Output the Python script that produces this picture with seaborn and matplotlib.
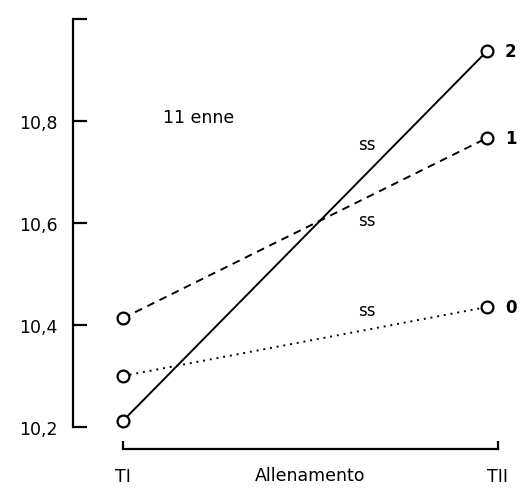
import pandas as pd
import seaborn as sns
import matplotlib.pyplot as plt

# valori
momenti = [0, 1]
tick_x = ['TI', 'TII']
gruppi = ['2', '1', '0']
valori_2 = [10.212, 10.936]
valori_1 = [10.413, 10.766]
valori_0 = [10.30, 10.435]
yticks = [10.2, 10.4, 10.6, 10.8]
ytick_labels = ['10,2', '10,4', '10,6', '10,8']

sns.set_theme(style="ticks")
plt.rcParams['font.family'] = ['DejaVu Sans']
plt.rcParams['text.color'] = 'black'

fig = plt.figure(figsize=(5.23, 4.89), dpi=100)
ax = fig.add_axes([0.1396, 0.0798, 0.8164, 0.8854])

stili = {'2': '-', '1': (0, (4, 3)), '0': (0, (1, 2.5))}
serie = {'2': valori_2, '1': valori_1, '0': valori_0}

for g in gruppi:
    df = pd.DataFrame({'momento': momenti, 'valore': serie[g]})
    sns.lineplot(data=df, x='momento', y='valore', ax=ax, color='black',
                 linestyle=stili[g], linewidth=1.4, marker='o', markersize=8.5,
                 markerfacecolor='white', markeredgecolor='black',
                 markeredgewidth=1.6, clip_on=False)
    ax.text(1.05, serie[g][1], g, fontsize=12, fontweight='bold',
            va='center', ha='left', clip_on=False)

ax.text(0.209, 10.808, '11 enne', fontsize=12.5, ha='center', va='center')
ax.text(0.67, 10.754, 'ss', fontsize=12, ha='center', va='center')
ax.text(0.67, 10.605, 'ss', fontsize=12, ha='center', va='center')
ax.text(0.67, 10.429, 'ss', fontsize=12, ha='center', va='center')

ax.set_xlim(-0.137, 1.036)
ax.set_ylim(10.157, 11.005)

ax.spines['top'].set_visible(False)
ax.spines['right'].set_visible(False)
ax.spines['left'].set_bounds(10.2, 11.0)
ax.spines['bottom'].set_bounds(0, 1.03)
for s in ['left', 'bottom']:
    ax.spines[s].set_linewidth(1.6)
    ax.spines[s].set_color('black')

ax.set_yticks(yticks + [11.0])
ax.set_yticklabels(ytick_labels + [''])
ax.tick_params(axis='y', direction='in', length=10, width=1.6,
               pad=11, labelsize=12.5, colors='black')

ax.set_xticks([0, 1.03])
ax.set_xticklabels(tick_x)
ax.tick_params(axis='x', direction='in', length=6, width=1.6,
               pad=13, labelsize=12.5, colors='black')

ax.text(0.514, -0.06, 'Allenamento', transform=ax.get_xaxis_transform(),
        fontsize=12.5, ha='center', va='center')

ax.set_xlabel('')
ax.set_ylabel('')
ax.grid(False)

fig.savefig('out.png', dpi=100)
